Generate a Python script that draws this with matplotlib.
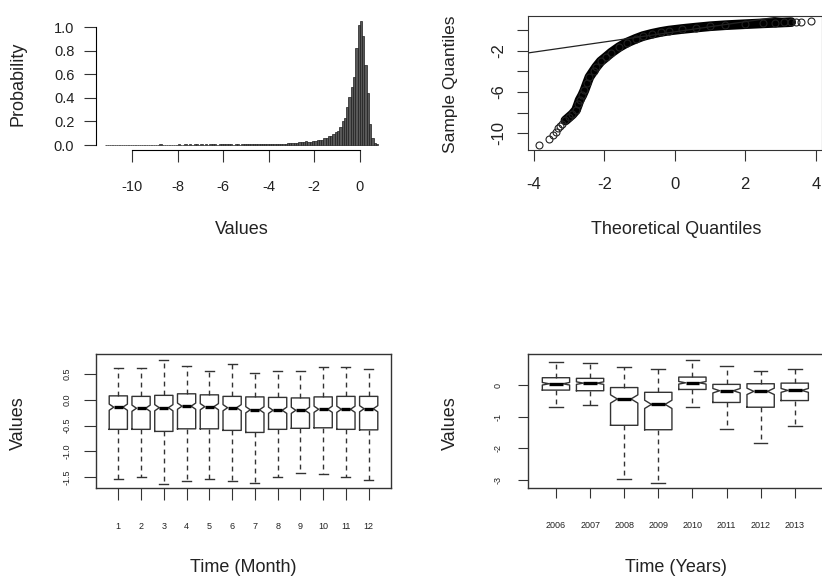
import numpy as np
import matplotlib
matplotlib.use("Agg")
import matplotlib.pyplot as plt

plt.rcParams["font.family"] = ["Liberation Sans", "DejaVu Sans"]
plt.rcParams["axes.unicode_minus"] = False

# ---- histogram (density per 0.1 bin, left edges from -11.2) ----
hist_bin_width = 0.1
hist_first_edge = -11.2
hist_density = [
    0.003, 0.002, 0.003, 0.002, 0.002, 0.003, 0.002, 0.003, 0.002, 0.002,
    0.003, 0.003, 0.002, 0.003, 0.004, 0.003, 0.002, 0.003, 0.003, 0.004,
    0.003, 0.004, 0.003, 0.004, 0.005, 0.003, 0.004, 0.004, 0.003, 0.004,
    0.004, 0.003, 0.005, 0.004, 0.004, 0.006, 0.004, 0.005, 0.004, 0.007,
    0.005, 0.004, 0.005, 0.004, 0.005, 0.004, 0.005, 0.006, 0.005, 0.004,
    0.005, 0.006, 0.007, 0.005, 0.006, 0.005, 0.004, 0.005, 0.006, 0.004,
    0.005, 0.006, 0.005, 0.007, 0.006, 0.005, 0.007, 0.008, 0.007, 0.009,
    0.008, 0.010,
    0.008, 0.008, 0.008, 0.010, 0.010, 0.010, 0.012, 0.012, 0.015, 0.015,
    0.018, 0.020, 0.020, 0.025, 0.025, 0.030, 0.035, 0.030, 0.030, 0.035,
    0.035, 0.040, 0.045, 0.045, 0.060, 0.060, 0.080, 0.075, 0.090, 0.110,
    0.120, 0.150, 0.200, 0.230, 0.320, 0.410, 0.490, 0.580, 0.820, 1.020,
    1.050, 0.920, 0.680, 0.440, 0.180, 0.060, 0.015, 0.005,
]
hist_xticks = [-10, -8, -6, -4, -2, 0]
hist_yticks = [0.0, 0.2, 0.4, 0.6, 0.8, 1.0]

# ---- normal QQ plot ----
qq_theoretical = [-3.85, -3.57, -3.46, -3.38, -3.32, -3.25, -3.20, -3.10, -3.00,
                  -2.90, -2.80, -2.74, -2.70, -2.62, -2.56, -2.48, -2.42, -2.30,
                  -2.23, -2.10, -1.95, -1.80, -1.58, -1.35, -1.11, -0.90, -0.65,
                  -0.40, -0.17, 0.20, 0.60, 1.00, 1.43, 2.00, 2.50, 2.84, 3.10,
                  3.30, 3.45, 3.58, 3.85]
qq_sample = [-11.15, -10.58, -10.16, -9.85, -9.52, -9.25, -9.10, -8.75, -8.45,
             -8.15, -7.75, -7.20, -6.80, -6.30, -5.84, -5.10, -4.56, -3.95,
             -3.60, -3.05, -2.63, -2.20, -1.67, -1.22, -0.87, -0.60, -0.38,
             -0.20, -0.07, 0.08, 0.22, 0.35, 0.45, 0.55, 0.63, 0.68, 0.72,
             0.75, 0.77, 0.80, 0.86]
qq_dense_from = 7      # first index of the overlapping (solid) band
qq_dense_to = 37       # last index of the band
qq_line_intercept = -0.19
qq_line_slope = 0.49
qq_xticks = [-4, -2, 0, 2, 4]
qq_yticks = [-10, -8, -6, -4, -2, 0]
qq_ytick_labels = ["-10", "", "-6", "", "-2", ""]

# ---- monthly boxplots ----
months = ["1", "2", "3", "4", "5", "6", "7", "8", "9", "10", "11", "12"]
month_whishi = [0.62, 0.62, 0.78, 0.66, 0.57, 0.70, 0.52, 0.57, 0.57, 0.64, 0.65, 0.60]
month_q3 = [0.08, 0.07, 0.09, 0.12, 0.10, 0.07, 0.06, 0.05, 0.04, 0.06, 0.07, 0.07]
month_med = [-0.14, -0.16, -0.15, -0.12, -0.13, -0.15, -0.19, -0.20, -0.20, -0.18, -0.18, -0.17]
month_q1 = [-0.57, -0.57, -0.61, -0.56, -0.56, -0.59, -0.63, -0.57, -0.55, -0.54, -0.57, -0.58]
month_whislo = [-1.54, -1.49, -1.64, -1.58, -1.53, -1.58, -1.61, -1.49, -1.41, -1.44, -1.49, -1.56]
month_notch = [0.06] * 12
month_yticks = [-1.5, -1.0, -0.5, 0.0, 0.5]
month_ytick_labels = ["-1.5", "-1.0", "-0.5", "0.0", "0.5"]

# ---- yearly boxplots ----
years = ["2006", "2007", "2008", "2009", "2010", "2011", "2012", "2013"]
year_whishi = [0.72, 0.68, 0.56, 0.51, 0.80, 0.60, 0.45, 0.49]
year_q3 = [0.23, 0.21, -0.08, -0.23, 0.25, 0.02, 0.04, 0.06]
year_med = [0.04, 0.06, -0.44, -0.61, 0.07, -0.18, -0.20, -0.17]
year_q1 = [-0.16, -0.18, -1.27, -1.41, -0.14, -0.55, -0.70, -0.49]
year_whislo = [-0.68, -0.64, -2.97, -3.10, -0.69, -1.39, -1.82, -1.29]
year_notch = [0.04, 0.04, 0.13, 0.13, 0.04, 0.07, 0.10, 0.06]
year_yticks = [-3, -2, -1, 0]
year_ytick_labels = ["-3", "-2", "-1", "0"]

W, H = 822, 578
fig = plt.figure(figsize=(W / 100, H / 100), dpi=100)


def px_axes(left, top, right, bottom):
    return fig.add_axes([left / W, 1 - bottom / H, (right - left) / W, (bottom - top) / H])


def px_text(x, y, s, size, rot=0):
    fig.text(x / W, 1 - y / H, s, fontsize=size, rotation=rot,
             ha="center", va="center", color="#222222")


ink = "#333333"

# ---------------- histogram ----------------
ax1 = px_axes(96, 17.6, 389, 150)
edges = hist_first_edge + hist_bin_width * np.arange(len(hist_density))
ax1.bar(edges, hist_density, width=hist_bin_width, align="edge",
        color="#585858", edgecolor="#1e1e1e", linewidth=0.5)
ax1.set_xlim(-11.58, 1.28)
ax1.set_ylim(-0.042, 1.08)
for s in ("top", "right"):
    ax1.spines[s].set_visible(False)
ax1.spines["left"].set_bounds(0, 1)
ax1.spines["bottom"].set_bounds(-10, 0)
ax1.set_xticks(hist_xticks)
ax1.set_xticklabels([str(t) for t in hist_xticks])
ax1.set_yticks(hist_yticks)
ax1.set_yticklabels(["%.1f" % t for t in hist_yticks])
ax1.tick_params(axis="x", length=8.6, pad=13, labelsize=10.5, color=ink, labelcolor="#222222")
ax1.tick_params(axis="y", length=8.6, pad=7, labelsize=10.5, color=ink, labelcolor="#222222")
px_text(18, 84, "Probability", 13, 90)
px_text(242, 230, "Values", 13)

# ---------------- QQ plot ----------------
ax2 = px_axes(528, 16, 821.5, 150)
qx = np.array(qq_theoretical)
qy = np.array(qq_sample)
ax2.plot(qx[qq_dense_from:qq_dense_to + 1], qy[qq_dense_from:qq_dense_to + 1],
         color="black", lw=7, solid_capstyle="round", solid_joinstyle="round")
ax2.plot(qx, qy, ls="none", marker="o", ms=5, mfc="none", mec="#222222", mew=0.8)
ax2.axline((0, qq_line_intercept), slope=qq_line_slope, color="#222222", lw=0.9)
ax2.set_xlim(-4.16, 4.16)
ax2.set_ylim(-11.6, 1.34)
ax2.set_xticks(qq_xticks)
ax2.set_xticklabels([str(t) for t in qq_xticks])
ax2.set_yticks(qq_yticks)
ax2.set_yticklabels(qq_ytick_labels, rotation=90, va="center")
ax2.tick_params(axis="x", length=7.6, pad=12, labelsize=12, color=ink, labelcolor="#222222")
ax2.tick_params(axis="y", length=7.6, pad=8, labelsize=12, color=ink, labelcolor="#222222")
for s in ax2.spines.values():
    s.set_color(ink)
px_text(450, 84, "Sample Quantiles", 12.5, 90)
px_text(676, 230, "Theoretical Quantiles", 13)


def boxes(ax, med, q1, q3, lo, hi, notch):
    stats = []
    for i in range(len(med)):
        stats.append(dict(med=med[i], q1=q1[i], q3=q3[i], whislo=lo[i], whishi=hi[i],
                          cilo=med[i] - notch[i], cihi=med[i] + notch[i], fliers=[]))
    ax.bxp(stats, positions=np.arange(1, len(med) + 1), widths=0.8, capwidths=0.4,
           shownotches=True, showfliers=False,
           boxprops=dict(color=ink, lw=1.0),
           whiskerprops=dict(color=ink, lw=1.0, linestyle=(0, (3.5, 3))),
           capprops=dict(color=ink, lw=1.0),
           medianprops=dict(color="black", lw=2.4, solid_capstyle="butt"))
    for s in ax.spines.values():
        s.set_color(ink)
        s.set_linewidth(1.0)


# ---------------- monthly boxplots ----------------
ax3 = px_axes(96, 354, 391, 488)
boxes(ax3, month_med, month_q1, month_q3, month_whislo, month_whishi, month_notch)
ax3.set_xlim(0.02, 12.98)
ax3.set_ylim(-1.709, 0.893)
ax3.set_xticks(np.arange(1, len(months) + 1))
ax3.set_xticklabels(months)
ax3.set_yticks(month_yticks)
ax3.set_yticklabels(month_ytick_labels, rotation=90, va="center")
ax3.tick_params(axis="x", length=8.3, pad=16, labelsize=6.5, color=ink, labelcolor="#222222")
ax3.tick_params(axis="y", length=8.3, pad=9, labelsize=6.5, color=ink, labelcolor="#222222")
px_text(18, 423, "Values", 13, 90)
px_text(243, 568, "Time (Month)", 13)

# ---------------- yearly boxplots ----------------
ax4 = px_axes(528, 354, 822.7, 488)
boxes(ax4, year_med, year_q1, year_q3, year_whislo, year_whishi, year_notch)
ax4.set_xlim(0.18, 8.82)
ax4.set_ylim(-3.247, 0.978)
ax4.set_xticks(np.arange(1, len(years) + 1))
ax4.set_xticklabels(years)
ax4.set_yticks(year_yticks)
ax4.set_yticklabels(year_ytick_labels, rotation=90, va="center")
ax4.tick_params(axis="x", length=7.5, pad=16, labelsize=6.5, color=ink, labelcolor="#222222")
ax4.tick_params(axis="y", length=7.5, pad=11, labelsize=6.5, color=ink, labelcolor="#222222")
px_text(450, 423, "Values", 13, 90)
px_text(676, 568, "Time (Years)", 13)

fig.savefig("out.png", dpi=100)
